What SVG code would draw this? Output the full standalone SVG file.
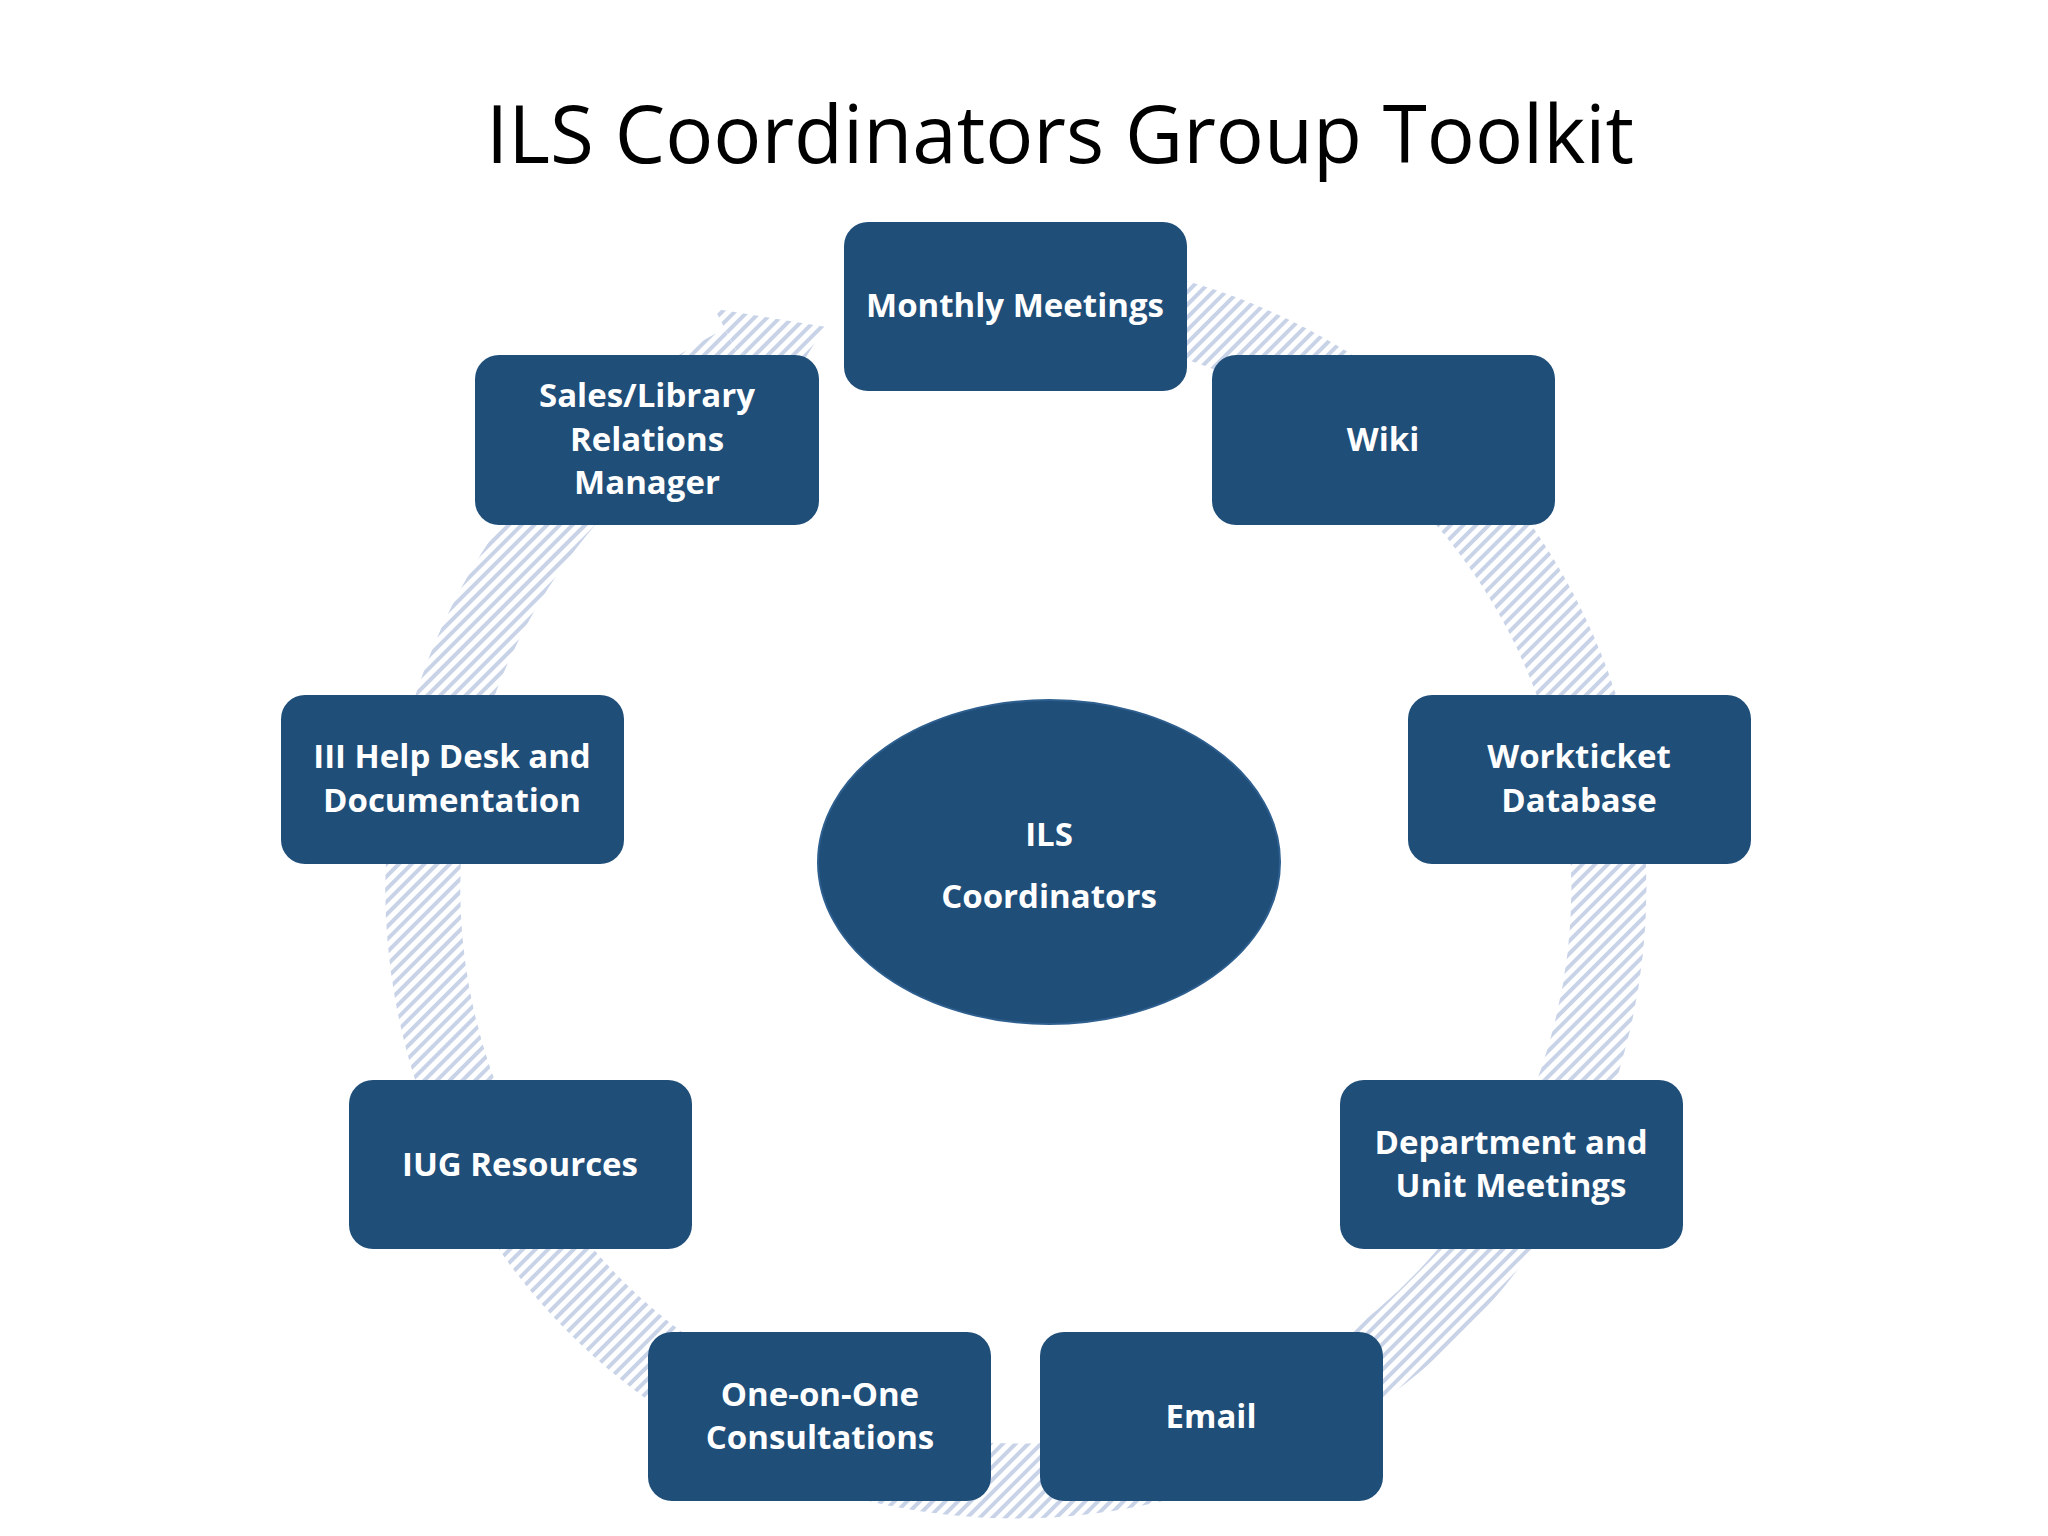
<svg xmlns="http://www.w3.org/2000/svg" width="2048" height="1536" viewBox="0 0 2048 1536">
<defs>
<pattern id="h" width="9" height="9" patternUnits="userSpaceOnUse" patternTransform="rotate(45)">
<rect width="9" height="9" fill="#fff"/><rect width="4" height="9" fill="#c9d3e8"/>
</pattern>
<style>
.b{fill:#1f4e79;}
.t{font-family:"Open Sans","Liberation Sans",sans-serif;font-weight:bold;font-size:33px;fill:#fff;text-anchor:middle;}
</style>
</defs>
<rect width="2048" height="1536" fill="#fff"/>
<text x="1060" y="163" font-family="Open Sans, Liberation Sans, sans-serif" font-size="80" text-anchor="middle" fill="#000">ILS Coordinators Group Toolkit</text>
<g id="connectors">
<path d="M913,304 A593,593 0 1 1 742,362" fill="none" stroke="url(#h)" stroke-width="75"/>
<polygon points="714.5,308.8 769.9,415.2 824.9,326.7" fill="url(#h)"/>
</g>
<g id="center"><ellipse cx="1049" cy="862" rx="231" ry="162" class="b" stroke="#2e5f8f" stroke-width="2"/>
<text class="t" x="1049" y="846" font-size="44">ILS</text><text class="t" x="1049" y="908" font-size="44">Coordinators</text></g>
<g id="monthly"><rect class="b" x="844" y="222" width="343" height="169" rx="24"/><text class="t" x="1015" y="317">Monthly Meetings</text></g>
<g id="wiki"><rect class="b" x="1212" y="355" width="343" height="170" rx="24"/><text class="t" x="1383" y="451">Wiki</text></g>
<g id="workticket"><rect class="b" x="1408" y="695" width="343" height="169" rx="24"/><text class="t" x="1579" y="768">Workticket</text><text class="t" x="1579" y="812">Database</text></g>
<g id="dept"><rect class="b" x="1340" y="1080" width="343" height="169" rx="24"/><text class="t" x="1511" y="1154">Department and</text><text class="t" x="1511" y="1197">Unit Meetings</text></g>
<g id="email"><rect class="b" x="1040" y="1332" width="343" height="169" rx="24"/><text class="t" x="1211" y="1428">Email</text></g>
<g id="oneonone"><rect class="b" x="648" y="1332" width="343" height="169" rx="24"/><text class="t" x="820" y="1406">One-on-One</text><text class="t" x="820" y="1449">Consultations</text></g>
<g id="iug"><rect class="b" x="349" y="1080" width="343" height="169" rx="24"/><text class="t" x="520" y="1176">IUG Resources</text></g>
<g id="helpdesk"><rect class="b" x="281" y="695" width="343" height="169" rx="24"/><text class="t" x="452" y="768">III Help Desk and</text><text class="t" x="452" y="812">Documentation</text></g>
<g id="sales"><rect class="b" x="475" y="355" width="344" height="170" rx="24"/><text class="t" x="647" y="407">Sales/Library</text><text class="t" x="647" y="451">Relations</text><text class="t" x="647" y="494">Manager</text></g>
</svg>
